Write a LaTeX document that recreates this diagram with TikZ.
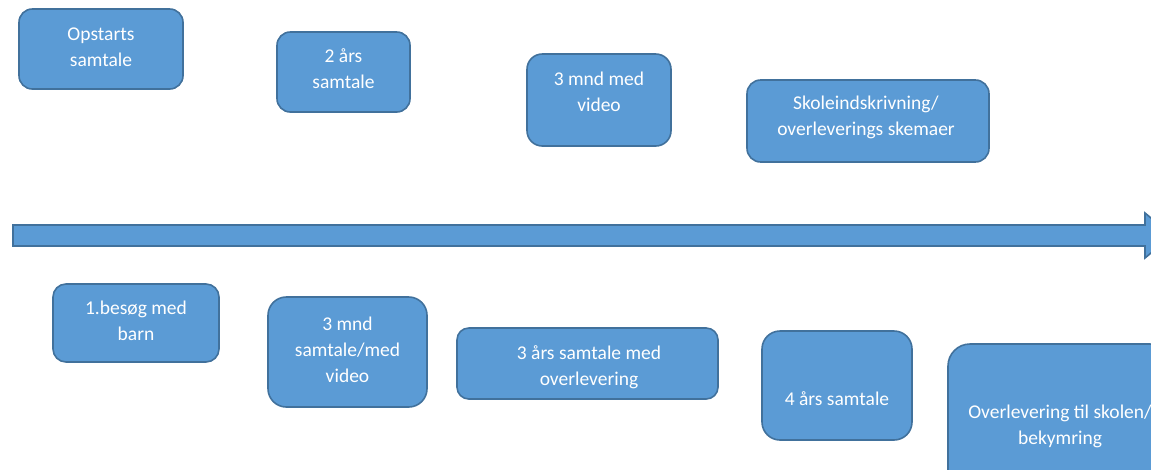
\documentclass[tikz,border=0pt]{standalone}
\usepackage{fontspec}
\setmainfont{Carlito}
\definecolor{boxfill}{HTML}{5B9BD5}
\definecolor{boxline}{HTML}{41719C}
\tikzset{
  stage/.style={draw=boxline, fill=boxfill, line width=1.6pt, inner sep=0pt, rectangle, rounded corners=#1},
  stage/.default=13pt,
  stagetext/.style={anchor=north, inner sep=0pt, align=center, text=white, font=\fontsize{19.5}{26}\selectfont},
  timeline/.style={draw=boxline, fill=boxfill, line width=1.6pt, line join=miter},
}
\begin{document}
\begin{tikzpicture}[x=1pt, y=-1pt]
\useasboundingbox (0,0) rectangle (1151,469);
\clip (0,0) rectangle (1151,469);
% timeline arrow
\coordinate (tl) at (13,225);
\coordinate (tip) at (1172,235.5);
\path[timeline] (tl) -- (1145,225) -- (1145,213) -- (tip) -- (1145,258) -- (1145,246) -- (13,246) -- cycle;
% upper boxes
\node[stage=13.3pt, minimum width=164pt, minimum height=80pt] (b1) at (101,49) {};
\node[stagetext] (t1) at (101,21.8) {\strut Opstarts\\samtale};
\node[stage=13.3pt, minimum width=133pt, minimum height=80pt] (b2) at (343.5,72) {};
\node[stagetext] (t2) at (343.5,43.8) {\strut 2 års\\samtale};
\node[stage=15.3pt, minimum width=144pt, minimum height=92pt] (b3) at (599,100) {};
\node[stagetext] (t3) at (599,66.8) {\strut 3 mnd med\\video};
\node[stage=13.7pt, minimum width=242pt, minimum height=82pt] (b4) at (868,121) {};
\node[stagetext] (t4) at (866,90.8) {\strut Skoleindskrivning/\\overleverings skemaer};
% lower boxes
\node[stage=13pt, minimum width=166pt, minimum height=78pt] (b5) at (136,323) {};
\node[stagetext] (t5) at (136,295.8) {\strut 1.besøg med\\barn};
\node[stage=18.3pt, minimum width=159pt, minimum height=110pt] (b6) at (347.5,352) {};
\node[stagetext] (t6) at (347.5,311.8) {\strut 3 mnd\\samtale/med\\video};
\node[stage=11.8pt, minimum width=261pt, minimum height=71pt] (b7) at (587.5,363.5) {};
\node[stagetext] (t7) at (589,340.8) {\strut 3 års samtale med\\overlevering};
\node[stage=18pt, minimum width=150pt, minimum height=109pt] (b8) at (837,385.5) {};
\node[stagetext] (t8) at (837,386.8) {\strut 4 års samtale};
\node[stage=22pt, minimum width=224pt, minimum height=166pt] (b9) at (1060,427) {};
\node[stagetext] (t9) at (1060,399.8) {\strut Overlevering til skolen/\\bekymring};
\end{tikzpicture}
\end{document}
